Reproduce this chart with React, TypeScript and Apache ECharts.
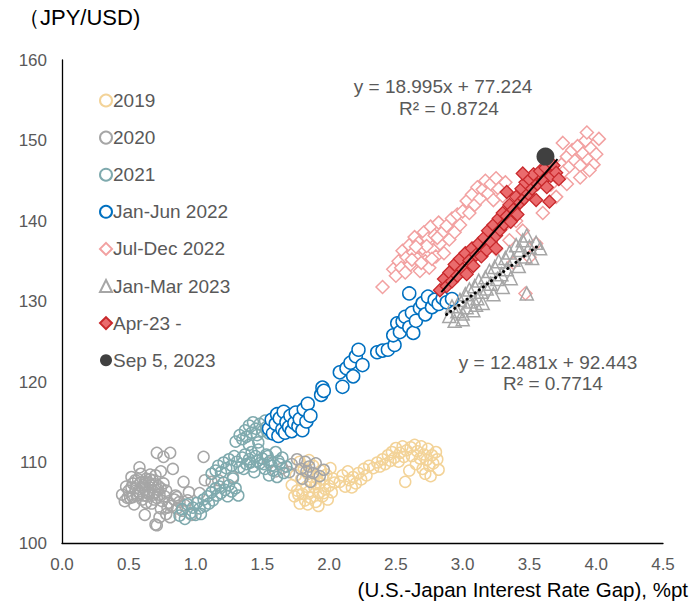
import React, { useEffect, useRef } from "react";
import * as echarts from "echarts";

const xTicks = [0, 4.5, 0.5];
const yTicks = [100, 160, 10];

const s2019: number[][] = [
  [1.72,107.2],[1.74,105.8],[1.75,108.4],[1.76,106.5],[1.78,104.9],[1.79,107.9],[1.80,106.1],[1.81,109.2],[1.82,105.3],[1.83,107.0],[1.84,108.6],[1.85,106.4],[1.86,105.6],[1.87,107.6],[1.88,109.6],[1.89,106.9],[1.90,105.1],[1.91,108.1],[1.92,106.2],[1.93,107.4],[1.94,109.0],[1.95,105.8],[1.96,107.9],[1.97,106.7],[1.98,108.5],[1.99,105.4],[2.00,107.1],[2.01,109.3],[2.02,106.3],[2.03,108.0],[1.78,110.1],[1.85,110.3],[1.92,104.6],[2.04,107.5],[1.77,106.0],[1.84,104.8],[1.90,107.3],[1.96,106.2],
  [2.08,107.6],[2.10,108.4],[2.12,107.0],[2.14,108.9],[2.15,107.8],[2.17,106.9],[2.18,108.2],[2.20,107.4],[2.22,108.7],[2.24,107.9],[2.26,109.2],[2.28,108.4],[2.30,109.6],
  [2.33,109.3],[2.36,110.0],[2.38,109.5],[2.40,110.4],[2.42,109.8],[2.44,110.9],[2.46,110.2],[2.47,111.3],[2.49,110.6],[2.50,111.8],[2.52,110.1],[2.53,111.2],[2.55,112.0],[2.56,110.7],[2.58,111.5],[2.57,107.6],[2.60,109.0],
  [2.61,111.9],[2.62,110.8],[2.64,112.2],[2.65,109.8],[2.66,111.4],[2.68,110.5],[2.69,112.0],[2.70,109.2],[2.71,111.0],[2.72,108.6],[2.73,110.3],[2.74,111.7],[2.75,109.6],[2.76,108.3],[2.77,110.9],[2.78,109.9],[2.80,111.3],[2.81,110.4],[2.82,109.1]
];

const s2020: number[][] = [
  [0.45,106.0],[0.47,105.2],[0.48,107.0],[0.50,106.5],[0.51,105.6],[0.52,108.2],[0.53,107.4],[0.54,104.8],[0.55,106.8],[0.56,105.9],[0.57,107.9],[0.58,106.2],[0.59,108.6],[0.60,105.4],[0.61,107.2],[0.62,106.6],[0.63,108.0],[0.64,105.8],[0.65,107.5],[0.66,106.9],[0.67,104.9],[0.68,107.8],[0.69,106.3],[0.70,108.4],[0.71,105.6],[0.72,107.1],[0.73,106.0],[0.74,108.9],[0.75,105.2],[0.76,107.4],[0.78,106.5],[0.80,105.0],[0.82,104.6],[0.84,105.4],[0.86,104.3],[0.88,105.1],[0.90,104.0],[0.92,104.7],[0.70,102.3],[0.62,103.5],[0.78,103.6],[0.58,109.4],[0.83,109.2],[0.95,106.3],[0.97,103.5],
  [0.60,106.9],[0.62,107.6],[0.64,106.3],[0.66,107.9],[0.68,106.0],[0.70,107.3],[0.72,106.6],[0.57,106.4],[0.61,105.9],[0.65,106.1],[0.67,107.2],[0.69,105.4],[0.63,105.0],[0.59,107.5],[0.74,106.8],[0.77,105.8],[0.55,107.8],[0.52,106.9],[0.66,108.5],[0.79,104.4],[0.85,105.9],[0.74,104.3],
  [0.71,111.2],[0.81,111.2],[0.76,110.7],[1.06,110.7],[0.91,107.6],[0.71,102.2],[0.53,105.7],[0.49,105.6],[0.86,105.7],[0.94,105.3],[0.81,103.2],[0.73,103.2],[1.07,107.8],[1.12,107.6],[1.03,106.2],[1.17,107.8],[1.28,108.2],
  [1.72,109.8],[1.76,110.4],[1.79,109.2],[1.82,110.1],[1.85,109.5],[1.88,108.7],[1.90,109.9],[1.93,108.3],[1.80,108.0],[1.86,107.6],[1.70,108.8],[1.65,109.3],[1.60,108.9],[1.55,110.0],[1.96,109.1],[1.83,108.9]
];

const s2021: number[][] = [
  [0.88,103.4],[0.90,104.2],[0.92,103.0],[0.94,104.8],[0.96,103.7],[0.98,104.4],[1.00,103.5],[1.01,105.0],[1.03,104.3],[1.04,103.6],[1.06,105.4],[1.07,104.6],[1.09,105.8],[1.10,104.9],[1.12,106.3],[1.13,105.3],[1.15,106.8],[1.16,105.9],[1.18,107.0],[1.19,106.2],[1.21,107.5],[1.22,106.6],[1.24,105.8],[1.25,107.2],[1.27,106.4],[1.28,108.0],[1.30,106.8],[1.32,105.9],
  [1.12,108.6],[1.15,109.0],[1.17,109.6],[1.19,108.8],[1.21,110.0],[1.23,109.3],[1.25,110.4],[1.27,109.6],[1.29,110.8],[1.31,110.1],[1.33,109.4],[1.35,110.6],[1.37,111.0],[1.38,109.8],[1.40,110.4],[1.42,111.3],[1.43,109.5],[1.45,110.8],[1.47,111.6],[1.48,109.9],[1.50,110.5],[1.52,109.2],[1.53,111.0],[1.55,108.4],[1.56,110.2],[1.58,109.0],[1.60,111.3],[1.61,108.2],[1.63,109.8],[1.65,110.6],[1.66,108.7],[1.68,109.5],
  [1.36,109.2],[1.41,110.0],[1.46,110.2],[1.51,109.8],[1.57,109.6],[1.62,110.2],[1.44,108.8],[1.54,110.8],
  [1.30,112.6],[1.33,113.4],[1.35,112.9],[1.37,114.0],[1.38,113.2],[1.40,114.6],[1.42,113.7],[1.43,115.0],[1.45,114.2],[1.46,113.4],[1.48,114.8],[1.50,113.9],[1.52,115.2],[1.53,114.4],[1.55,113.6],[1.40,112.2],[1.47,112.5]
];

const sH1_2022: number[][] = [
  [1.55,114.2],[1.57,115.3],[1.58,113.6],[1.60,114.8],[1.61,116.0],[1.62,113.3],[1.63,115.5],[1.65,114.1],[1.66,116.3],[1.67,113.7],[1.68,115.0],[1.70,114.4],[1.71,115.8],[1.72,113.9],[1.74,114.9],[1.75,116.2],[1.77,114.5],[1.78,115.4],[1.80,114.0],[1.81,116.6],[1.83,115.1],[1.84,117.3],[1.86,115.8],
  [1.94,118.4],[1.95,119.3],[1.96,118.9],[2.08,121.2],[2.10,119.4],[2.13,121.7],[2.16,122.4],[2.18,120.7],[2.20,123.2],[2.22,124.0],[2.25,122.1],[2.36,123.7],[2.40,123.9],[2.44,124.0],[2.49,124.6],[2.48,125.8],[2.51,127.3],[2.53,126.2],[2.55,127.5],[2.57,128.1],[2.60,126.8],[2.62,128.6],[2.63,126.1],[2.65,127.6],[2.68,129.2],[2.70,129.8],[2.72,128.4],[2.74,130.6],[2.77,129.3],[2.79,130.2],[2.82,129.7],[2.85,130.4],[2.88,129.9],[2.92,130.3],[2.60,131.0]
];

const sH2_2022: number[][] = [
  [2.40,131.8],[2.48,134.0],[2.50,133.2],[2.52,135.0],[2.54,134.2],[2.55,136.3],[2.57,133.6],[2.58,135.5],[2.60,137.0],[2.61,134.6],[2.63,136.1],[2.64,138.0],[2.66,135.3],[2.67,137.3],[2.68,133.8],[2.70,136.6],[2.71,138.6],[2.72,135.0],[2.74,137.8],[2.75,134.2],[2.76,139.3],[2.78,136.4],[2.79,138.2],[2.80,135.6],[2.82,139.8],[2.83,137.2],[2.85,138.6],[2.86,136.0],[2.88,139.4],[2.90,137.7],[2.92,140.3],[2.94,138.6],[2.96,140.8],[2.98,139.5],
  [2.62,135.2],[2.69,134.8],[2.73,136.9],[2.77,135.3],[2.81,137.9],[2.65,136.8],
  [3.00,141.2],[3.03,142.5],[3.05,141.0],[3.07,143.3],[3.09,142.0],[3.11,144.2],[3.13,142.8],[3.15,143.9],[3.17,145.0],[3.19,143.4],[3.21,144.6],[3.23,142.6],[3.25,145.3],[3.27,144.0],[3.30,143.1],[3.32,144.8],
  [3.15,137.0],[3.20,138.5],[3.25,136.5],[3.30,139.2],[3.35,137.6],[3.40,140.0],[3.45,138.8],[3.50,135.5],[3.55,137.2],[3.38,134.8],[3.60,141.0],[3.47,131.0],
  [3.72,145.5],[3.74,147.0],[3.76,146.2],[3.78,148.0],[3.80,146.8],[3.82,148.8],[3.84,147.5],[3.86,149.3],[3.88,146.9],[3.90,148.4],[3.92,150.0],[3.94,147.6],[3.96,149.0],[3.98,147.0],[4.00,148.3],[4.02,150.2],[3.88,145.4],[3.78,144.6],[3.70,143.0],[3.66,144.5],[3.75,149.7],[3.93,151.0],[3.95,146.3]
];

const sQ1_2023: number[][] = [
  [2.90,128.2],[2.92,129.4],[2.94,127.6],[2.96,128.8],[2.98,130.2],[3.00,128.5],[3.02,130.9],[3.03,129.3],[3.05,131.5],[3.06,130.0],[3.08,128.9],[3.09,131.9],[3.11,130.4],[3.12,132.6],[3.14,131.2],[3.15,129.8],[3.17,133.0],[3.18,131.6],[3.20,133.8],[3.21,132.2],[3.23,130.9],[3.24,134.3],[3.26,132.8],[3.27,135.0],[3.29,133.4],[3.30,131.8],[3.32,135.4],[3.33,134.0],[3.35,136.1],[3.36,132.9],[3.38,135.2],[3.40,137.0],[3.42,134.4],[3.43,136.4],[3.45,137.6],[3.47,135.6],[3.48,138.2],[3.50,136.8],[3.52,135.4],[3.55,137.3],[3.58,136.6],[3.48,131.0],[3.00,127.8],[3.10,129.6]
];

const sApr2023: number[][] = [
  [2.83,131.4],[2.86,132.8],[2.88,131.9],[2.90,133.6],[2.92,132.5],[2.94,134.6],[2.96,133.2],[2.98,135.3],[3.00,134.0],[3.02,136.0],[3.03,133.4],[3.05,135.1],[3.07,136.6],[3.08,134.4],[3.10,135.8],[3.12,137.2],[3.14,135.6],[3.16,137.9],[3.18,136.4],[3.19,138.8],[3.21,137.4],[3.23,139.5],[3.25,138.2],[3.27,140.3],[3.28,138.9],[3.30,141.0],[3.31,139.6],[3.33,140.6],[3.35,142.0],[3.36,139.9],[3.38,141.4],[3.40,143.0],[3.41,140.8],[3.43,142.3],[3.44,144.0],[3.46,142.8],[3.47,144.8],[3.49,143.4],[3.50,145.2],[3.52,144.0],[3.53,145.8],[3.55,142.6],[3.56,144.6],[3.58,146.2],[3.60,145.0],[3.62,146.6],[3.63,144.2],[3.65,142.4],[3.66,145.6],[3.68,146.9],[3.70,146.0],[3.72,145.2],[3.33,143.6],[3.45,145.9],[3.25,136.6]
];

const sSep5: number[][] = [[3.62, 148.0]];

const trend1 = { slope: 18.995, intercept: 77.224, r2: "0.8724", xFrom: 2.84, xTo: 3.71 };
const trend2 = { slope: 12.481, intercept: 92.443, r2: "0.7714", xFrom: 2.88, xTo: 3.56 };

const seriesNames = ["2019", "2020", "2021", "Jan-Jun 2022", "Jul-Dec 2022", "Jan-Mar 2023", "Apr-23 -", "Sep 5, 2023"];

const FONT = "Liberation Sans, Arial, sans-serif";
const TXT = "#595959";

export default function App() {
  const ref = useRef<HTMLDivElement>(null);
  useEffect(() => {
    document.body.style.margin = "0";
    const chart = echarts.init(ref.current!, null, { renderer: "svg" });
    const line = (t: typeof trend1) => [
      [t.xFrom, t.slope * t.xFrom + t.intercept],
      [t.xTo, t.slope * t.xTo + t.intercept],
    ];
    const hollow = (name: string, data: number[][], color: string, size: number, symbol: string, fill = "rgba(255,255,255,0)") => ({
      name,
      type: "scatter",
      data,
      symbol,
      symbolSize: size,
      itemStyle: { color: fill, borderColor: color, borderWidth: 1.5, opacity: 1 },
      emphasis: { disabled: true },
    });
    chart.setOption({
      animation: false,
      textStyle: { fontFamily: FONT },
      grid: { left: 62, right: 32, top: 60, bottom: 60 },
      xAxis: {
        type: "value",
        min: xTicks[0],
        max: xTicks[1],
        interval: xTicks[2],
        axisLine: { show: true, onZero: false, lineStyle: { color: "#000", width: 1.3 } },
        axisTick: { show: false },
        splitLine: { show: false },
        axisLabel: { color: TXT, fontSize: 17, margin: 13, formatter: (v: number) => v.toFixed(1), fontFamily: FONT },
      },
      yAxis: {
        type: "value",
        min: yTicks[0],
        max: yTicks[1],
        interval: yTicks[2],
        axisLine: { show: true, lineStyle: { color: "#000", width: 1.3 } },
        axisTick: { show: false },
        splitLine: { show: false },
        axisLabel: { color: TXT, fontSize: 17, margin: 15, fontFamily: FONT },
      },
      legend: {
        data: seriesNames,
        orient: "vertical",
        left: 94,
        top: 86,
        itemWidth: 12,
        itemHeight: 12,
        itemGap: 18.1,
        textStyle: { color: TXT, fontSize: 19, lineHeight: 19, fontFamily: FONT, padding: [0, 0, 0, -4] },
        selectedMode: false,
      },
      graphic: [
        { type: "text", left: 18, top: 6, style: { text: "（JPY/USD)", fill: "#000", font: `22px ${FONT}` } },
        { type: "text", right: 7, top: 579, style: { text: "(U.S.-Japan Interest Rate Gap), %pt", fill: "#000", font: `20.5px ${FONT}` } },
        { type: "text", x: 443, y: 86, style: { text: `y = ${trend1.slope}x + ${trend1.intercept}`, fill: TXT, font: `19px ${FONT}`, align: "center", verticalAlign: "middle" } },
        { type: "text", x: 449, y: 108, style: { text: `R² = ${trend1.r2}`, fill: TXT, font: `19px ${FONT}`, align: "center", verticalAlign: "middle" } },
        { type: "text", x: 548, y: 362, style: { text: `y = ${trend2.slope}x + ${trend2.intercept}`, fill: TXT, font: `19px ${FONT}`, align: "center", verticalAlign: "middle" } },
        { type: "text", x: 553, y: 383, style: { text: `R² = ${trend2.r2}`, fill: TXT, font: `19px ${FONT}`, align: "center", verticalAlign: "middle" } },
      ],
      series: [
        hollow("2019", s2019, "#F3D398", 11, "circle"),
        hollow("2020", s2020, "#A6A6A6", 11, "circle"),
        hollow("2021", s2021, "#7FAAAE", 11, "circle"),
        hollow("Jan-Jun 2022", sH1_2022, "#0070C0", 13, "circle", "#ffffff"),
        hollow("Jul-Dec 2022", sH2_2022, "#F2A1A1", 13, "diamond", "#ffffff"),
        hollow("Jan-Mar 2023", sQ1_2023, "#A6A6A6", 13, "triangle", "rgba(255,255,255,0)"),
        {
          name: "Apr-23 -",
          type: "scatter",
          data: sApr2023,
          symbol: "diamond",
          symbolSize: 13,
          itemStyle: { color: "#EA6B6D", borderColor: "#C8282B", borderWidth: 1.3, opacity: 1 },
          emphasis: { disabled: true },
        },
        {
          name: "Sep 5, 2023",
          type: "scatter",
          data: sSep5,
          symbol: "circle",
          symbolSize: 18,
          itemStyle: { color: "#404040", opacity: 1 },
          emphasis: { disabled: true },
        },
        {
          name: "trend1",
          type: "line",
          data: line(trend1),
          showSymbol: false,
          symbol: "none",
          lineStyle: { color: "#000", width: 2 },
          silent: true,
        },
        {
          name: "trend2",
          type: "line",
          data: line(trend2),
          showSymbol: false,
          symbol: "none",
          lineStyle: { color: "#000", width: 3, type: [0.1, 5], cap: "round" },
          silent: true,
        },
      ],
    });
    return () => chart.dispose();
  }, []);
  return <div ref={ref} style={{ width: 695, height: 603 }} />;
}
